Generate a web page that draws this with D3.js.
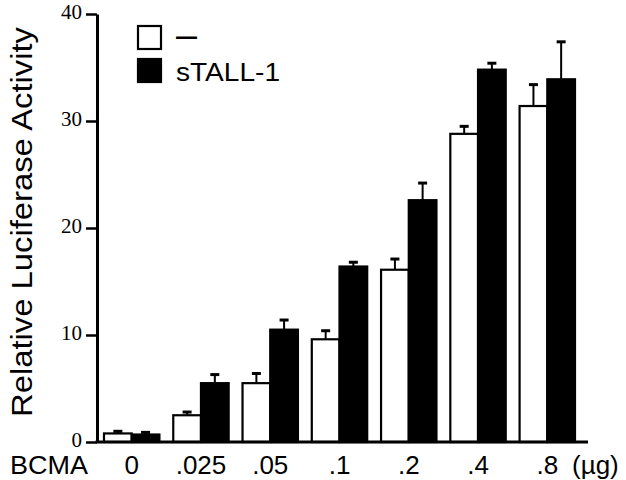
<!DOCTYPE html>
<html>
<head>
<meta charset="utf-8">
<script src="https://cdn.jsdelivr.net/npm/d3@7"></script>
<style>
  html, body { margin: 0; padding: 0; background: #fff; }
  svg { display: block; }
</style>
</head>
<body>
<div id="chart"></div>
<script>
// --- data ---
const doses = ['0', '.025', '.05', '.1', '.2', '.4', '.8'];
const series = ['—', 'sTALL-1'];
const controlMean = [0.8, 2.5, 5.5, 9.6, 16.1, 28.8, 31.4];
const controlErr  = [0.2, 0.3, 0.9, 0.8, 1.0, 0.7, 2.0];
const stallMean   = [0.7, 5.5, 10.5, 16.4, 22.6, 34.8, 33.9];
const stallErr    = [0.2, 0.8, 0.9, 0.4, 1.6, 0.6, 3.5];
const yTicks = [0, 10, 20, 30, 40];

const width = 626, height = 480;

const svg = d3.select('#chart').append('svg')
    .attr('width', width)
    .attr('height', height);

const y = d3.scaleLinear().domain([0, 40]).range([442, 14]);
const x = d3.scaleBand().domain(doses).range([104, 575]).paddingInner(0.2).paddingOuter(0);
const sub = d3.scaleBand().domain(series).range([0, x.bandwidth()]);

const rows = doses.map((d, i) => [
    { dose: d, s: series[0], v: controlMean[i], e: controlErr[i] },
    { dose: d, s: series[1], v: stallMean[i], e: stallErr[i] }
]).flat();

// bars
svg.selectAll('.bar').data(rows).enter().append('rect')
    .attr('class', 'bar')
    .attr('x', d => x(d.dose) + sub(d.s))
    .attr('y', d => y(d.v))
    .attr('width', sub.bandwidth())
    .attr('height', d => y(0) - y(d.v))
    .attr('fill', d => d.s === series[0] ? '#fff' : '#000')
    .attr('stroke', '#000')
    .attr('stroke-width', 2.2);

// error bars (upper only)
const err = svg.selectAll('.err').data(rows).enter().append('g').attr('class', 'err');
err.append('line')
    .attr('x1', d => x(d.dose) + sub(d.s) + sub.bandwidth() / 2)
    .attr('x2', d => x(d.dose) + sub(d.s) + sub.bandwidth() / 2)
    .attr('y1', d => y(d.v))
    .attr('y2', d => y(d.v + d.e))
    .attr('stroke', '#000').attr('stroke-width', 2);
err.append('line')
    .attr('x1', d => x(d.dose) + sub(d.s) + sub.bandwidth() / 2 - 4.5)
    .attr('x2', d => x(d.dose) + sub(d.s) + sub.bandwidth() / 2 + 4.5)
    .attr('y1', d => y(d.v + d.e))
    .attr('y2', d => y(d.v + d.e))
    .attr('stroke', '#000').attr('stroke-width', 3);

// y axis
const yAxis = svg.append('g').attr('transform', 'translate(97,0)')
    .call(d3.axisLeft(y).tickValues(yTicks).tickSize(11).tickSizeOuter(0).tickPadding(4));
yAxis.select('.domain').attr('stroke-width', 3);
yAxis.selectAll('.tick line').attr('stroke-width', 2.5);
yAxis.selectAll('.tick text')
    .attr('font-family', '"Liberation Serif", serif')
    .attr('font-size', 21)
    .attr('dy', '0.2em')
    .attr('fill', '#000');

// x axis baseline
svg.append('line')
    .attr('x1', 95.5).attr('x2', 588)
    .attr('y1', y(0)).attr('y2', y(0))
    .attr('stroke', '#000').attr('stroke-width', 3);

// x labels
const sans = '"Liberation Sans", Arial, sans-serif';
const xFont = 26, xBase = 474;
svg.selectAll('.xlab').data(doses).enter().append('text')
    .attr('class', 'xlab')
    .attr('x', d => x(d) + x.bandwidth() / 2)
    .attr('y', xBase)
    .attr('text-anchor', 'middle')
    .attr('font-family', sans)
    .attr('font-size', xFont)
    .text(d => d);

svg.append('text')
    .attr('x', 10).attr('y', xBase)
    .attr('font-family', sans).attr('font-size', xFont)
    .attr('textLength', 78).attr('lengthAdjust', 'spacingAndGlyphs')
    .text('BCMA');

svg.append('text')
    .attr('x', 572).attr('y', xBase)
    .attr('font-family', sans).attr('font-size', xFont)
    .text('(µg)');

// y title
svg.append('text')
    .attr('transform', 'translate(32,222) rotate(-90)')
    .attr('text-anchor', 'middle')
    .attr('font-family', sans)
    .attr('font-size', 30)
    .attr('textLength', 390)
    .attr('lengthAdjust', 'spacingAndGlyphs')
    .text('Relative Luciferase Activity');

// legend
const legend = svg.selectAll('.leg').data(series).enter().append('g')
    .attr('class', 'leg')
    .attr('transform', (d, i) => `translate(138,${26 + i * 33})`);
legend.append('rect')
    .attr('width', 23).attr('height', 23)
    .attr('fill', (d, i) => i === 0 ? '#fff' : '#000')
    .attr('stroke', '#000').attr('stroke-width', 2.2);
legend.append('text')
    .attr('x', 38).attr('y', 22)
    .attr('font-family', sans)
    .attr('font-size', 25)
    .attr('font-weight', (d, i) => i === 0 ? 'bold' : 'normal')
    .attr('textLength', (d, i) => i === 0 ? 21 : 104)
    .attr('lengthAdjust', 'spacingAndGlyphs')
    .attr('dy', (d, i) => i === 0 ? -3 : 0)
    .text(d => d);
</script>
</body>
</html>
